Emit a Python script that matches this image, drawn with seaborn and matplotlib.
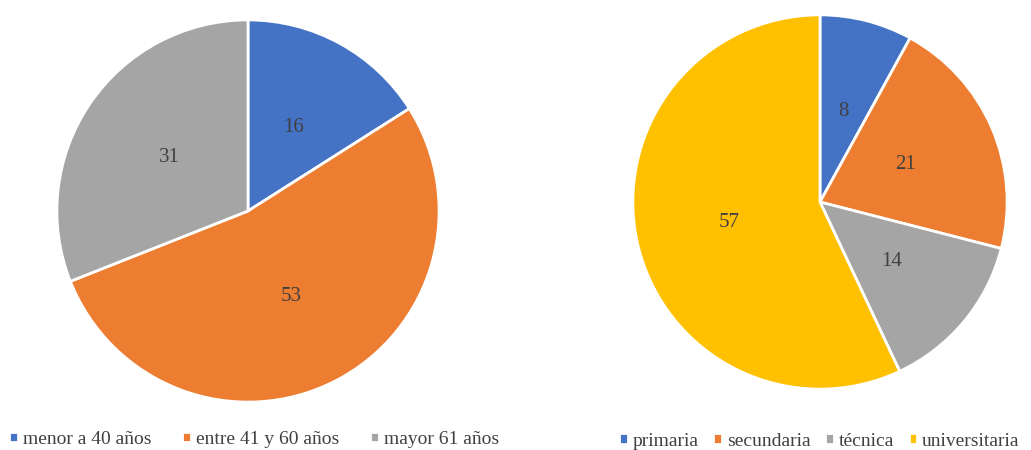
import matplotlib.pyplot as plt
import seaborn as sns

# datos
edad_labels = ['menor a 40 años', 'entre 41 y 60 años', 'mayor 61 años']
edad_values = [16, 53, 31]

estudio_labels = ['primaria', 'secundaria', 'técnica', 'universitaria']
estudio_values = [8, 21, 14, 57]

sns.set_theme(style='white')
plt.rcParams['font.family'] = ['Liberation Serif', 'DejaVu Serif']

colores = ['#4472C4', '#ED7D31', '#A5A5A5', '#FFC000']

fig = plt.figure(figsize=(10.31, 4.5), dpi=100)

ax1 = fig.add_axes([55 / 1031, 46 / 450, 386 / 1031, 386 / 450])
ax2 = fig.add_axes([631 / 1031, 59 / 450, 378 / 1031, 378 / 450])


def dibujar_pie(ax, valores):
    wedges, _, textos = ax.pie(
        valores, colors=colores[:len(valores)], startangle=90, counterclock=False,
        autopct=lambda p: f'{p:.0f}', pctdistance=0.5,
        wedgeprops=dict(edgecolor='white', linewidth=2),
        textprops=dict(color='#404040', fontsize=15))
    ax.set_xlim(-1.01, 1.01)
    ax.set_ylim(-1.01, 1.01)
    ax.set_aspect('equal')
    return wedges


w1 = dibujar_pie(ax1, edad_values)
w2 = dibujar_pie(ax2, estudio_values)

leg_kw = dict(ncol=4, frameon=False, fontsize=14, handlelength=0.45, handleheight=0.45,
              handletextpad=0.25, labelcolor='#404040', borderpad=0, borderaxespad=0)
fig.legend(w1, edad_labels, loc='lower left', bbox_to_anchor=(9 / 1031, 2 / 450),
           columnspacing=1.6, **leg_kw)
fig.legend(w2, estudio_labels, loc='lower left', bbox_to_anchor=(619 / 1031, 0.5 / 450),
           columnspacing=0.75, **leg_kw)

fig.savefig('out.png', dpi=100)
